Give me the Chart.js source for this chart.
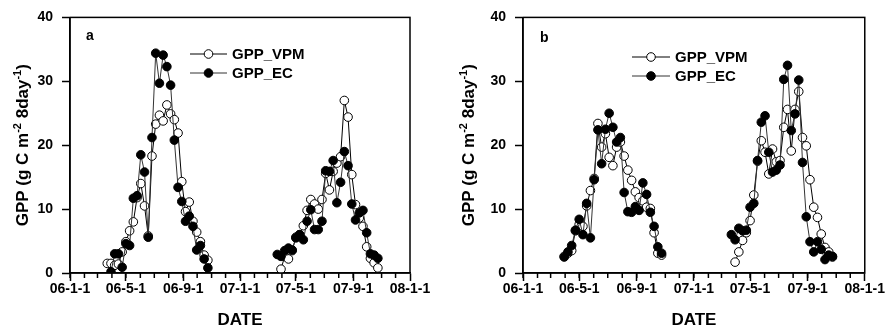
<!DOCTYPE html>
<html><head><meta charset="utf-8">
<script src="https://cdn.jsdelivr.net/npm/chart.js@4"></script>
<style>
html,body{margin:0;padding:0;background:#fff;}
#wrap{position:relative;width:885px;height:329px;overflow:hidden;}
#ca{position:absolute;left:0;top:0;}
#cb{position:absolute;left:440px;top:0;}
</style></head><body>
<div id="wrap"><canvas id="ca" width="440" height="329"></canvas><canvas id="cb" width="445" height="329"></canvas></div>
<script>
// 8-day composite start days (day of year), same in both years
const compositeDOY = [81,89,97,105,113,121,129,137,145,153,161,169,177,185,193,201,209,217,225,233,241,249,257,265,273,281,289,297];
const years = [2006, 2007];

// Panel a
const vpmA2006 = [1.5,1.5,1.2,1.4,3.3,4.9,6.6,8.0,11.8,14.0,10.5,5.8,18.3,23.3,24.7,23.8,26.3,24.9,24.0,21.9,14.3,9.6,11.1,8.1,6.4,4.9,2.8,2.0];
const ecA2006  = [null,0.2,3.0,3.0,0.9,4.6,4.3,11.7,12.1,18.5,15.8,5.6,21.2,34.4,29.7,34.1,32.3,29.4,20.8,13.4,11.2,8.1,8.9,7.3,3.6,4.3,2.2,0.8];
const vpmA2007 = [null,0.6,2.6,2.2,3.5,5.6,6.0,7.4,9.8,11.5,10.8,10.0,11.5,15.6,13.0,15.9,17.2,18.2,27.0,24.4,15.4,10.7,8.6,7.3,4.1,2.3,1.6,0.8];
const ecA2007  = [2.9,2.6,3.5,3.9,3.6,5.5,6.0,5.2,8.1,9.9,6.8,6.8,8.1,16.0,15.9,17.6,11.0,14.2,19.0,16.8,10.8,8.3,9.4,9.8,6.3,3.0,2.8,2.3];

// Panel b
const vpmB2006 = [null,2.6,3.1,3.5,6.6,7.6,7.3,10.5,12.9,14.8,23.4,19.7,21.8,18.1,16.8,19.7,20.5,18.3,16.1,14.5,12.7,11.8,11.3,10.3,10.1,6.3,3.1,2.8];
const ecB2006  = [null,2.5,3.3,4.3,6.7,8.4,6.0,10.9,5.5,14.6,22.4,17.1,22.5,25.0,22.8,20.5,21.2,12.6,9.6,9.5,10.4,9.8,14.1,12.3,9.5,7.3,4.1,3.1];
const vpmB2007 = [null,1.7,3.3,5.1,6.3,8.2,12.2,17.5,20.7,18.9,15.5,19.4,17.4,17.6,22.8,25.6,19.1,25.6,28.4,21.2,19.9,14.6,10.3,8.7,6.1,4.0,3.3,2.5];
const ecB2007  = [6.0,5.2,7.0,6.6,6.7,10.3,10.9,17.6,23.6,24.6,18.9,15.8,16.1,16.9,30.3,32.5,22.3,24.9,30.2,17.3,8.8,4.9,3.3,4.9,3.7,2.1,2.8,2.6];

const seriesNames = ['GPP_VPM', 'GPP_EC'];
const panelLetters = ['a', 'b'];
const xTickLabels = ['06-1-1','06-5-1','06-9-1','07-1-1','07-5-1','07-9-1','08-1-1'];
const yTickValues = [0,10,20,30,40];
const xTitle = 'DATE';
const yTitleParts = [['GPP (g C m',0],['-2',1],[' 8day',0],['-1',1],[')',0]];

const FAM = '"Liberation Sans", Arial, Helvetica, sans-serif';
const DAY = 86400000;
const T0 = Date.UTC(2006,0,1);
function dayOffset(y,m,d){ return (Date.UTC(y,m-1,d)-T0)/DAY; }
function parseLabel(s){ const p=s.split('-').map(Number); return dayOffset(2000+p[0],p[1],p[2]); }
const majorTicks = xTickLabels.map(l=>({value:parseLabel(l), label:l}));
const xMin = majorTicks[0].value, xMax = majorTicks[majorTicks.length-1].value;
const minorTickValues = [];
for(let y=2006;y<=2007;y++) for(let m=1;m<=12;m++) minorTickValues.push(dayOffset(y,m,1));

function build(v1, v2){
  const out=[];
  [v1,v2].forEach((vals,k)=>{
    compositeDOY.forEach((doy,i)=>{ out.push({x: dayOffset(years[k],1,1)+doy-1, y: vals[i]}); });
    if(k===0) out.push({x: dayOffset(years[1],1,1), y: null});
  });
  return out;
}

const decoPlugin = {
  id:'deco',
  afterDraw(chart, args, o){
    const ctx=chart.ctx, ca=chart.chartArea, xs=chart.scales.x;
    ctx.save();
    // frame
    ctx.strokeStyle='#000'; ctx.lineWidth=1.5;
    ctx.strokeRect(ca.left, ca.top, ca.right-ca.left, ca.bottom-ca.top);
    // minor x ticks
    ctx.lineWidth=1.5;
    minorTickValues.forEach(v=>{
      const px=xs.getPixelForValue(v);
      ctx.beginPath(); ctx.moveTo(px, ca.bottom); ctx.lineTo(px, ca.bottom+5); ctx.stroke();
    });
    // panel letter
    ctx.fillStyle='#000'; ctx.font='bold 14px '+FAM; ctx.textBaseline='middle'; ctx.textAlign='left';
    ctx.fillText(o.letter, o.letterX, o.letterY);
    // legend
    chart.data.datasets.forEach((ds,i)=>{
      const y=o.legY + i*o.legGap;
      ctx.strokeStyle=ds.borderColor; ctx.lineWidth=1;
      ctx.beginPath(); ctx.moveTo(o.legX,y); ctx.lineTo(o.legX+o.legLen,y); ctx.stroke();
      ctx.beginPath(); ctx.arc(o.legX+o.legLen/2, y, 4.3, 0, Math.PI*2);
      ctx.fillStyle=ds.pointBackgroundColor; ctx.fill();
      ctx.strokeStyle='#000'; ctx.stroke();
      ctx.fillStyle='#000'; ctx.font='bold 15px '+FAM; ctx.textAlign='left'; ctx.textBaseline='middle';
      ctx.fillText(ds.label, o.legX+o.legLen+5, y+1);
    });
    // y title with superscripts
    ctx.translate(o.ytX, (ca.top+ca.bottom)/2); ctx.rotate(-Math.PI/2);
    const big='bold 17px '+FAM, small='bold 11px '+FAM;
    let total=0;
    yTitleParts.forEach(p=>{ ctx.font=p[1]?small:big; total+=ctx.measureText(p[0]).width; });
    let x=-total/2; ctx.textBaseline='alphabetic'; ctx.textAlign='left';
    yTitleParts.forEach(p=>{ ctx.font=p[1]?small:big; ctx.fillText(p[0], x, p[1]?-1:6); x+=ctx.measureText(p[0]).width; });
    ctx.restore();
  }
};

function makePanel(id, vpm06, vpm07, ec06, ec07, cfg){
  const datasets=[
    {label:seriesNames[0], data:build(vpm06,vpm07), borderColor:'#000', borderWidth:1,
     pointBackgroundColor:'#fff', pointBorderColor:'#000', pointBorderWidth:1, pointRadius:4.3, order:1, spanGaps:false},
    {label:seriesNames[1], data:build(ec06,ec07), borderColor:'#333', borderWidth:1,
     pointBackgroundColor:'#000', pointBorderColor:'#000', pointBorderWidth:1, pointRadius:4.3, order:0, spanGaps:false}
  ];
  new Chart(document.getElementById(id), {
    type:'line',
    data:{datasets},
    options:{
      responsive:false, animation:false, events:[],
      layout:{padding:{top:cfg.top, right:cfg.right, left:0, bottom:0}},
      elements:{line:{tension:0}},
      plugins:{legend:{display:false}, tooltip:{enabled:false}, deco:cfg.deco},
      scales:{
        x:{type:'linear', min:xMin, max:xMax,
           afterBuildTicks:s=>{ s.ticks=majorTicks.map(t=>({value:t.value})); },
           afterFit:s=>{ s.height=56; },
           ticks:{autoSkip:false, maxRotation:0, padding:0, color:'#000',
                  font:{family:FAM, size:14, weight:'bold'},
                  callback:(v)=>{ const t=majorTicks.find(m=>m.value===v); return t?t.label:''; }},
           grid:{display:true, drawOnChartArea:false, drawTicks:true, tickLength:8, tickColor:'#000', tickWidth:1.5},
           border:{display:true, color:'#000', width:1.5},
           title:{display:true, text:xTitle, color:'#000', font:{family:FAM, size:17, weight:'bold', lineHeight:1}, padding:{top:0,bottom:0}}
        },
        y:{type:'linear', min:0, max:40,
           afterBuildTicks:s=>{ s.ticks=yTickValues.map(v=>({value:v})); },
           afterFit:s=>{ s.width=cfg.left; },
           ticks:{padding:9, color:'#000', font:{family:FAM, size:14, weight:'bold'}},
           grid:{display:true, drawOnChartArea:false, drawTicks:true, tickLength:8, tickColor:'#000', tickWidth:1.5},
           border:{display:true, color:'#000', width:1.5}
        }
      }
    },
    plugins:[decoPlugin]
  });
}

makePanel('ca', vpmA2006, vpmA2007, ecA2006, ecA2007, {
  left:70, right:30, top:17,
  deco:{letter:panelLetters[0], letterX:86, letterY:36, legX:190, legY:54, legGap:19, legLen:37, ytX:22}
});
makePanel('cb', vpmB2006, vpmB2007, ecB2006, ecB2007, {
  left:83, right:18, top:16,
  deco:{letter:panelLetters[1], letterX:100, letterY:38, legX:192, legY:57, legGap:19, legLen:38, ytX:28}
});
</script>
</body></html>
